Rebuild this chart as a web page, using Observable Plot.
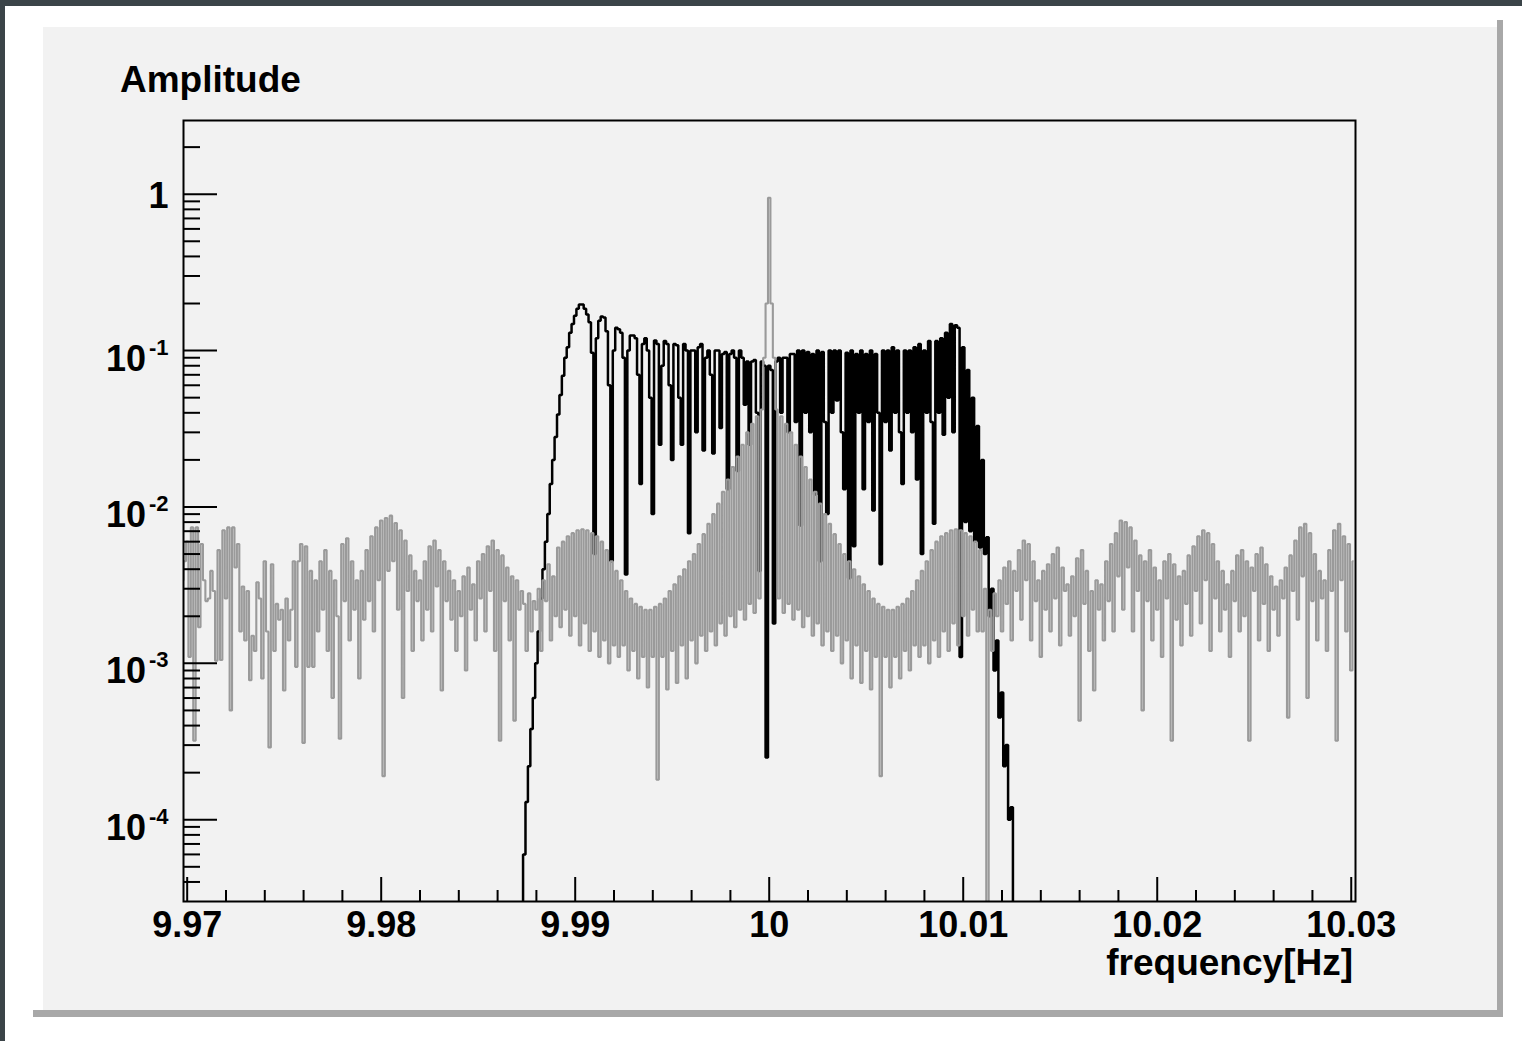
<!DOCTYPE html>
<html><head><meta charset="utf-8">
<script src="https://cdn.jsdelivr.net/npm/d3@7"></script>
<script src="https://cdn.jsdelivr.net/npm/@observablehq/plot@0.6"></script>
<style>
html,body{margin:0;padding:0;}
body{background:#3b4448;width:1522px;height:1041px;position:relative;overflow:hidden;font-family:"Liberation Sans",Arial,sans-serif;}
#page{position:absolute;left:5px;top:6px;width:1517px;height:1035px;background:#ffffff;}
#shadowR{position:absolute;left:1497px;top:20px;width:6px;height:997px;background:#a8a8a8;}
#shadowB{position:absolute;left:33px;top:1010px;width:1470px;height:7px;background:#a8a8a8;}
#chart{position:absolute;left:43px;top:27px;width:1454px;height:983px;background:#f2f2f2;}
#chart svg{display:block;}
</style></head><body>
<div id="page"></div><div id="shadowR"></div><div id="shadowB"></div>
<div id="chart"></div>
<script>
// histogram bin definition
const binWidth = 0.000125;
const grayFirstCenter = 9.96975;
const blackFirstCenter = 9.98725;

// gray histogram: amplitude per bin
const grayAmp = [
 3.4e-3,4.5e-3,6e-3,1.1e-3,7.4e-3,3.2e-4,7.4e-3,1.7e-3,5.8e-3,3.4e-3,
 2.5e-3,2.6e-3,3.9e-3,2.9e-3,1.04e-3,5.3e-3,1.05e-3,7.1e-3,2.6e-3,7.4e-3,
 5e-4,7.4e-3,4.1e-3,5.8e-3,1.6e-3,3.1e-3,1.4e-3,2.9e-3,7.8e-4,1.5e-3,
 1.2e-3,3.3e-3,2.6e-3,8e-4,4.5e-3,1.6e-3,2.9e-4,4.3e-3,1.2e-3,2.4e-3,
 1.9e-3,2.2e-3,6.7e-4,2.6e-3,1.4e-3,2.2e-3,4.5e-3,9.5e-4,4.5e-3,5.8e-3,
 3.1e-4,5.6e-3,9.5e-4,3.9e-3,9.5e-4,
 3.4e-3,1.6e-3,4.5e-3,2.2e-3,5.3e-3,1.2e-3,3.9e-3,6e-4,3.4e-3,2e-3,
 3.3e-4,5.8e-3,2.5e-3,6.3e-3,1.4e-3,4.5e-3,2.2e-3,3.4e-3,8e-4,
 3.9e-3,1.9e-3,5.3e-3,2.5e-3,6.5e-3,1.6e-3,7.4e-3,3.4e-3,8.2e-3,1.9e-4,
 8.5e-3,3.9e-3,8.8e-3,4.5e-3,7.9e-3,2.2e-3,7.1e-3,6e-4,6.1e-3,2.9e-3,
 4.9e-3,1.2e-3,3.9e-3,2.5e-3,3.4e-3,
 1.4e-3,4.5e-3,2.2e-3,5.6e-3,1.6e-3,6.1e-3,3.1e-3,5.3e-3,6.7e-4,4.5e-3,
 2.5e-3,3.9e-3,1.9e-3,3.4e-3,1.2e-3,2.9e-3,2e-3,3.6e-3,9e-4,4.1e-3,
 2.2e-3,3.2e-3,1.4e-3,4.5e-3,2.6e-3,5e-3,1.6e-3,5.6e-3,2.9e-3,6.1e-3,
 1.2e-3,5.3e-3,3.2e-4,4.9e-3,2.5e-3,4.1e-3,1.4e-3,3.6e-3,4.3e-4,3.4e-3,
 2.2e-3,2.9e-3,
 2.4e-3,1.2e-3,2.8e-3,1.6e-3,2.5e-3,2.2e-3,3e-3,1.2e-3,3.4e-3,2.5e-3,
 4.3e-3,1.4e-3,3.6e-3,2e-3,5.5e-3,1.7e-3,6e-3,2.2e-3,6.5e-3,1.5e-3,
 6.8e-3,2e-3,7.1e-3,1.3e-3,7.2e-3,1.8e-3,7.1e-3,1.2e-3,6.8e-3,1.6e-3,
 6.5e-3,1.1e-3,6e-3,1.4e-3,5.3e-3,1e-3,4.5e-3,1.3e-3,3.9e-3,1.1e-3,
 3.4e-3,1.3e-3,2.9e-3,9e-4,2.6e-3,1.2e-3,2.4e-3,8e-4,2.3e-3,1.1e-3,
 2.2e-3,7e-4,2.2e-3,1.1e-3,2.3e-3,1.8e-4,2.4e-3,1.1e-3,2.6e-3,6.8e-4,
 2.9e-3,1.2e-3,3.2e-3,7.5e-4,3.6e-3,1.3e-3,4e-3,8e-4,4.5e-3,1.4e-3,
 5e-3,1e-3,5.8e-3,1.5e-3,6.7e-3,1.2e-3,7.8e-3,1.6e-3,9e-3,1.3e-3,
 1.05e-2,1.8e-3,1.25e-2,1.5e-3,1.5e-2,2e-3,1.8e-2,1.7e-3,2.1e-2,2.2e-3,
 2.5e-2,1.9e-3,3e-2,2.4e-3,3.4e-2,2.1e-3,3.8e-2,2.6e-3,4.2e-2,
 0.09,0.2,0.95,0.2,0.09,
 4.2e-2,2.6e-3,3.8e-2,2.1e-3,3.4e-2,2.4e-3,3e-2,1.9e-3,2.5e-2,2.2e-3,
 2.1e-2,1.7e-3,1.8e-2,2e-3,1.5e-2,1.5e-3,1.25e-2,1.8e-3,1.05e-2,1.3e-3,
 9e-3,1.6e-3,7.8e-3,1.2e-3,6.7e-3,1.5e-3,5.8e-3,1e-3,5e-3,1.4e-3,
 4.5e-3,8e-4,4e-3,1.3e-3,3.6e-3,7.5e-4,3.2e-3,1.2e-3,2.9e-3,6.8e-4,
 2.6e-3,1.1e-3,2.4e-3,1.9e-4,2.3e-3,1.1e-3,2.2e-3,7e-4,2.2e-3,1.1e-3,
 2.3e-3,8e-4,2.4e-3,1.2e-3,2.6e-3,9e-4,2.9e-3,1.3e-3,3.4e-3,1.1e-3,
 3.9e-3,1.3e-3,4.5e-3,1e-3,5.3e-3,1.4e-3,6e-3,1.1e-3,6.5e-3,1.6e-3,
 6.8e-3,1.2e-3,7.1e-3,1.8e-3,7.2e-3,1.3e-3,7.1e-3,2e-3,6.8e-3,1.5e-3,
 6.5e-3,2.2e-3,6e-3,1.6e-3,5.3e-3,1.6e-3,3e-3,1e-5,
 2.2e-3,1.2e-3,2.8e-3,2e-3,3.4e-3,1.6e-3,4.1e-3,2.4e-3,4.5e-3,1.4e-3,
 3.9e-3,2.9e-3,5.3e-3,1.9e-3,6.1e-3,3.4e-3,5.8e-3,1.4e-3,4.5e-3,2.5e-3,
 3.4e-3,1.1e-3,3.9e-3,2.2e-3,4.3e-3,1.6e-3,5e-3,2.6e-3,5.5e-3,1.3e-3,
 4.1e-3,2.9e-3,3.2e-3,1.5e-3,3.6e-3,2e-3,4.7e-3,4.3e-4,5.3e-3,2.4e-3,
 3.9e-3,1.2e-3,2.9e-3,6.7e-4,3.4e-3,2.2e-3,3.2e-3,1.4e-3,4.5e-3,2.5e-3,
 5.8e-3,1.6e-3,6.8e-3,3.6e-3,8.2e-3,2.2e-3,8e-3,4.1e-3,7.4e-3,1.6e-3,
 6.1e-3,2.9e-3,4.9e-3,5e-4,4.5e-3,2.5e-3,5.3e-3,1.4e-3,4.1e-3,2.2e-3,
 3.4e-3,1.1e-3,4.5e-3,2.6e-3,5e-3,3.2e-4,4.3e-3,1.9e-3,3.6e-3,1.3e-3,
 3.9e-3,2.4e-3,4.9e-3,1.5e-3,5.6e-3,2.9e-3,6.5e-3,1.8e-3,7.1e-3,3.4e-3,
 6.8e-3,1.2e-3,5.8e-3,2.6e-3,4.5e-3,1.6e-3,3.9e-3,2.2e-3,3.2e-3,1.1e-3,
 3.9e-3,2.5e-3,4.9e-3,1.6e-3,5.3e-3,2e-3,4.5e-3,3.2e-4,4.1e-3,2.9e-3,
 5e-3,1.4e-3,5.5e-3,2.4e-3,4.3e-3,1.2e-3,3.6e-3,2.2e-3,3.1e-3,1.5e-3,
 3.4e-3,2.6e-3,4.1e-3,4.5e-4,4.9e-3,2.9e-3,6.1e-3,1.9e-3,7.4e-3,3.6e-3,
 7.8e-3,6e-4,6.8e-3,2.5e-3,5e-3,1.4e-3,3.9e-3,2.6e-3,3.4e-3,1.2e-3,
 5.3e-3,2.9e-3,7.1e-3,3.2e-4,7.8e-3,3.4e-3,6.5e-3,1.6e-3,5.8e-3,9e-4,
 4.5e-3
];

// black histogram: amplitude per bin (starting at blackFirstCenter)
const blackAmp = [
 1e-5,6e-5,1.3e-4,2.2e-4,3.8e-4,6e-4,1e-3,1.6e-3,2.6e-3,4e-3,
 6e-3,9e-3,1.4e-2,2e-2,2.8e-2,3.9e-2,5.2e-2,6.9e-2,9e-2,0.105,
 0.13,0.148,0.167,0.185,0.197,0.197,0.185,0.17,0.152,0.097,
 5e-3,0.12,0.155,0.165,0.163,0.133,0.06,4.5e-3,0.1,0.14,
 0.137,0.13,0.09,3.7e-3,0.1,0.125,0.125,0.12,0.07,1.4e-2,
 0.11,0.12,0.1,0.05,9e-3,0.116,0.11,2.5e-2,0.08,0.115,
 0.11,0.06,2e-2,0.11,0.108,0.05,2.5e-2,0.11,0.1,6.8e-3,
 0.1,0.1,3e-2,0.105,0.11,2.3e-2,0.09,0.1,0.07,2.2e-2,
 0.1,0.1,3.2e-2,0.095,0.098,1.3e-2,0.095,0.1,0.09,1.7e-2,
 0.1,0.09,0.045,0.085,2.5e-2,0.085,0.087,0.04,3.9e-3,0.085,
 0.08,2.5e-4,0.08,0.075,1.8e-3,0.085,0.09,0.04,0.09,0.09,
 0.03,0.095,0.095,0.035,0.1,7.6e-3,0.1,0.04,0.098,0.03,
 0.095,1.2e-2,0.1,4.5e-3,0.098,0.035,9e-3,0.1,0.04,0.1,
 4.8e-2,0.1,0.03,1.3e-2,0.097,3.5e-3,0.1,5.6e-3,0.095,0.04,
 0.1,1.3e-2,0.095,0.035,0.1,9.5e-3,0.095,0.04,4.3e-3,0.1,
 0.035,0.1,2.3e-2,0.105,0.04,0.1,0.03,1.4e-2,0.1,0.04,
 0.1,0.03,0.105,1.5e-2,0.11,5e-3,0.1,0.04,0.115,0.035,
 7.8e-3,0.115,0.04,0.12,2.9e-2,0.13,0.05,0.148,0.03,0.145,
 0.14,1.1e-3,0.105,8e-3,0.075,7e-3,0.05,6e-3,0.033,5.5e-3,
 0.02,5e-3,6.4e-3,2e-3,3e-3,9e-4,1.4e-3,4.5e-4,6.5e-4,2.2e-4,
 3e-4,1e-4,1.2e-4,1e-5
];

// axes
const xMajorTicks = [9.97, 9.98, 9.99, 10, 10.01, 10.02, 10.03];
const xTickLabels = ["9.97", "9.98", "9.99", "10", "10.01", "10.02", "10.03"];
const xMinorTicks = [9.972, 9.974, 9.976, 9.978, 9.982, 9.984, 9.986, 9.988,
  9.992, 9.994, 9.996, 9.998, 10.002, 10.004, 10.006, 10.008,
  10.012, 10.014, 10.016, 10.018, 10.022, 10.024, 10.026, 10.028];
const yMajorTicks = [1e-4, 1e-3, 1e-2, 1e-1, 1];
const yTickLabels = ["10^-4", "10^-3", "10^-2", "10^-1", "1"];
const yMinorTicks = [4e-5, 5e-5, 6e-5, 7e-5, 8e-5, 9e-5,
  2e-4, 3e-4, 4e-4, 5e-4, 6e-4, 7e-4, 8e-4, 9e-4,
  2e-3, 3e-3, 4e-3, 5e-3, 6e-3, 7e-3, 8e-3, 9e-3,
  2e-2, 3e-2, 4e-2, 5e-2, 6e-2, 7e-2, 8e-2, 9e-2,
  0.2, 0.3, 0.4, 0.5, 0.6, 0.7, 0.8, 0.9, 2];
const xDomain = [9.96981, 10.03022];
const yDomain = [3e-5, 2.96];
const yTitle = "Amplitude";
const xTitle = "frequency[Hz]";

const gray = grayAmp.map((a, i) => ({f: grayFirstCenter + i * binWidth, a}));
const black = blackAmp.map((a, i) => ({f: blackFirstCenter + i * binWidth, a}));
const xLab = new Map(xMajorTicks.map((v, i) => [v, xTickLabels[i]]));
const yLab = new Map(yMajorTicks.map((v, i) => [v, yTickLabels[i]]));

const plot = Plot.plot({
  width: 1454, height: 983,
  marginLeft: 140, marginRight: 142, marginTop: 93, marginBottom: 109,
  style: {background: "transparent", fontFamily: "'Liberation Sans', Arial, sans-serif", fontWeight: "bold", fontSize: "36px", color: "black", overflow: "visible"},
  x: {domain: xDomain},
  y: {type: "log", domain: yDomain},
  marks: [
    Plot.line(black, {x: "f", y: "a", curve: "step", stroke: "#000", strokeWidth: 2.5, strokeLinejoin: "miter", strokeLinecap: "butt", clip: true}),
    Plot.line(gray, {x: "f", y: "a", curve: "step", stroke: "#9a9a9a", strokeWidth: 2.1, strokeLinejoin: "miter", strokeLinecap: "butt", clip: true}),
    Plot.axisX(xMinorTicks, {anchor: "bottom", tickSize: -11, strokeWidth: 2, fill: "none", label: null}),
    Plot.axisX(xMajorTicks, {anchor: "bottom", tickSize: -24, strokeWidth: 2, fill: "none", label: null}),
    Plot.axisX(xMajorTicks, {anchor: "bottom", tickSize: 0, tickPadding: 10, tickFormat: d => xLab.get(d), label: null}),
    Plot.axisY(yMinorTicks, {anchor: "left", tickSize: -17, strokeWidth: 2, fill: "none", label: null}),
    Plot.axisY(yMajorTicks, {anchor: "left", tickSize: -34, strokeWidth: 2, fill: "none", label: null}),
    Plot.axisY(yMajorTicks, {anchor: "left", tickSize: 0, tickPadding: 15, tickFormat: d => yLab.get(d), label: null}),
    Plot.frame({stroke: "black", strokeWidth: 2})
  ]
});
document.getElementById("chart").appendChild(plot);

const svg = d3.select(plot);
svg.selectAll('g[aria-label="y-axis tick label"] text').each(function () {
  const t = this.textContent;
  const sel = d3.select(this);
  sel.attr("dy", null);
  if (t.includes("^")) {
    const [base, exp] = t.split("^");
    sel.text(null).attr("y", 20);
    sel.append("tspan").text(base);
    sel.append("tspan").attr("dx", 3).attr("dy", -16).style("font-size", "22px").text(exp);
  } else {
    sel.attr("y", 14);
  }
});
svg.append("text").attr("x", 77).attr("y", 65).attr("text-anchor", "start")
  .style("font-size", "37px").style("font-weight", "bold").attr("fill", "black").text(yTitle);
svg.append("text").attr("x", 1310).attr("y", 948).attr("text-anchor", "end")
  .style("font-size", "37px").style("font-weight", "bold").attr("fill", "black").text(xTitle);
</script>
</body></html>
